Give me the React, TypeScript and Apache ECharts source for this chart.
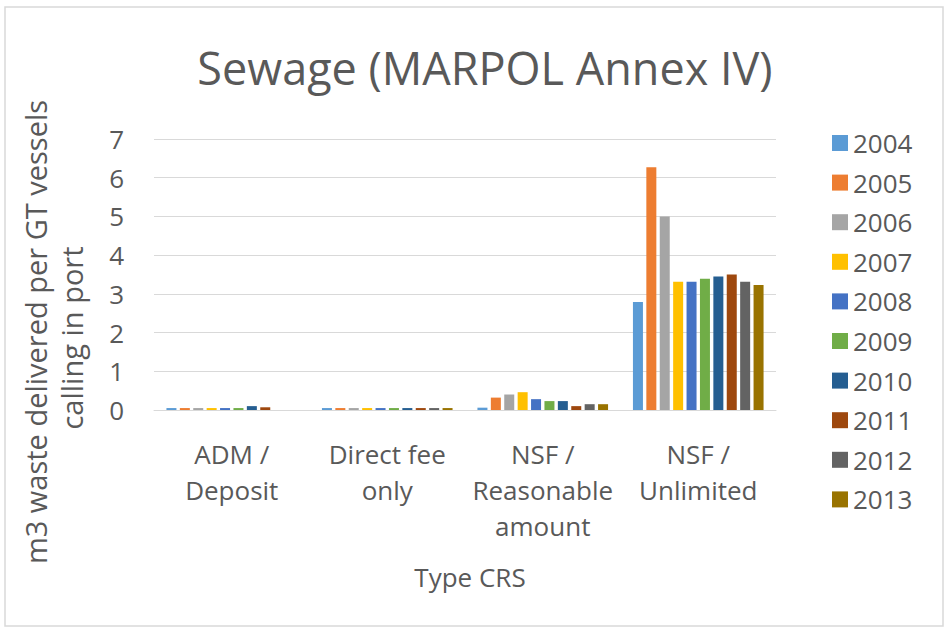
import React, { useEffect, useRef } from "react";
import * as echarts from "echarts";

const categories = ["ADM /\nDeposit", "Direct fee\nonly", "NSF /\nReasonable\namount", "NSF /\nUnlimited"];
const years = ["2004", "2005", "2006", "2007", "2008", "2009", "2010", "2011", "2012", "2013"];
const colors = ["#5B9BD5", "#ED7D31", "#A5A5A5", "#FFC000", "#4472C4", "#70AD47", "#255E91", "#9E480E", "#636363", "#997300"];
const admDeposit = [0.05, 0.05, 0.05, 0.05, 0.05, 0.05, 0.1, 0.07, 0, 0];
const directFeeOnly = [0.05, 0.05, 0.05, 0.05, 0.05, 0.05, 0.05, 0.05, 0.05, 0.05];
const nsfReasonable = [0.06, 0.32, 0.4, 0.46, 0.28, 0.23, 0.23, 0.1, 0.15, 0.15];
const nsfUnlimited = [2.79, 6.27, 5.0, 3.31, 3.31, 3.39, 3.45, 3.5, 3.31, 3.23];
const yTicks = { min: 0, max: 7, interval: 1 };

const FONT = "'Open Sans', 'Noto Sans', sans-serif";
const TXT = "#595959";

export default function App() {
  const ref = useRef<HTMLDivElement>(null);
  useEffect(() => {
    if (!ref.current) return;
    const chart = echarts.init(ref.current, null, { renderer: "svg" });
    const series = years.map((y, i) => ({
      name: y,
      type: "bar",
      data: [admDeposit[i], directFeeOnly[i], nsfReasonable[i], nsfUnlimited[i]],
      itemStyle: { color: colors[i] },
      barGap: "34%",
      barCategoryGap: "16%",
    }));
    chart.setOption({
      animation: false,
      backgroundColor: "#ffffff",
      textStyle: { fontFamily: FONT },
      title: {
        text: "Sewage (MARPOL Annex IV)",
        left: 480,
        top: 36,
        textAlign: "center",
        textStyle: { fontFamily: FONT, fontSize: 45, fontWeight: "normal", color: TXT, lineHeight: 52 },
      },
      legend: {
        orient: "vertical",
        left: 827,
        top: 123,
        itemWidth: 16,
        itemHeight: 16,
        itemGap: 9.6,
        icon: "rect",
        data: years,
        textStyle: { fontFamily: FONT, fontSize: 26, color: TXT, lineHeight: 30 },
      },
      grid: { left: 154, right: 171, top: 139, bottom: 218, containLabel: false },
      xAxis: {
        type: "category",
        data: categories,
        axisLine: { show: true, lineStyle: { color: "#d9d9d9", width: 1 } },
        axisTick: { show: false },
        axisLabel: {
          interval: 0,
          margin: 26,
          fontFamily: FONT,
          fontSize: 26,
          lineHeight: 36,
          color: TXT,
          align: "center",
        },
      },
      yAxis: {
        type: "value",
        min: yTicks.min,
        max: yTicks.max,
        interval: yTicks.interval,
        axisLine: { show: false },
        axisTick: { show: false },
        splitLine: { lineStyle: { color: "#d9d9d9", width: 1 } },
        axisLabel: { margin: 30, fontFamily: FONT, fontSize: 26, color: TXT },
      },
      graphic: [
        {
          type: "rect",
          shape: { x: 5, y: 7, width: 938, height: 619 },
          style: { fill: "none", stroke: "#d9d9d9", lineWidth: 1.5 },
          silent: true,
          z: -1,
        },
        {
          type: "text",
          x: 35,
          y: 332,
          rotation: Math.PI / 2,
          style: {
            text: "m3 waste delivered per GT vessels",
            fontFamily: FONT,
            fontSize: 29,
            fill: TXT,
            align: "center",
            verticalAlign: "middle",
          },
        },
        {
          type: "text",
          x: 71,
          y: 338,
          rotation: Math.PI / 2,
          style: {
            text: "calling in port",
            fontFamily: FONT,
            fontSize: 29,
            fill: TXT,
            align: "center",
            verticalAlign: "middle",
          },
        },
        {
          type: "text",
          x: 470,
          y: 577,
          style: {
            text: "Type CRS",
            fontFamily: FONT,
            fontSize: 26,
            fill: TXT,
            align: "center",
            verticalAlign: "middle",
          },
        },
      ],
      series,
    });
    return () => chart.dispose();
  }, []);
  return (
    <div
      ref={ref}
      style={{ position: "absolute", left: 0, top: 0, width: 947, height: 628 }}
    />
  );
}
